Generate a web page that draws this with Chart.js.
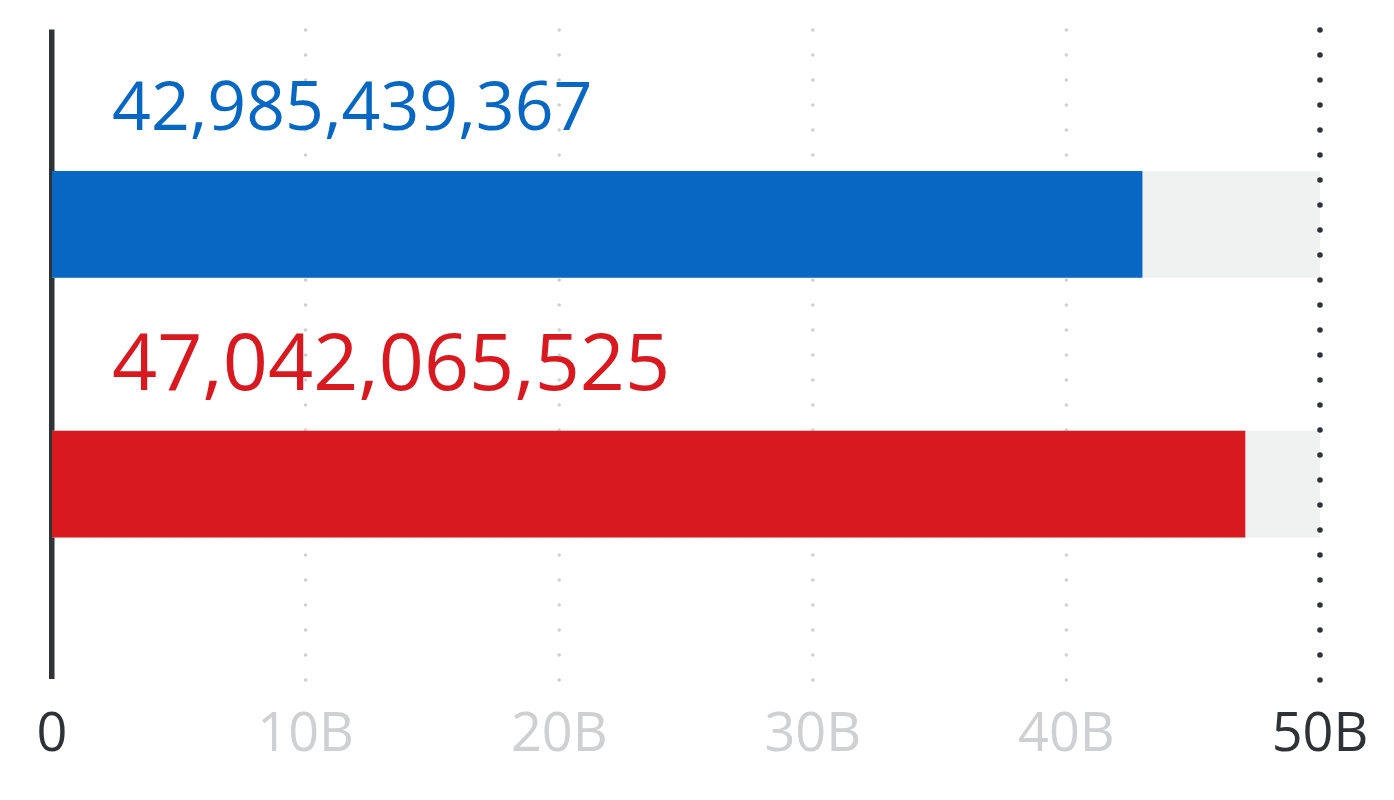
<!DOCTYPE html>
<html>
<head>
<meta charset="utf-8">
<script src="https://cdn.jsdelivr.net/npm/chart.js@4/dist/chart.umd.min.js"></script>
<style>
  html, body { margin: 0; padding: 0; background: #fff; }
  #wrap { width: 1394px; height: 800px; position: relative; }
</style>
</head>
<body>
<div id="wrap"><canvas id="barChart"></canvas></div>
<script>
// values
const categories = ['Blue', 'Red'];
const values = [42985439367, 47042065525];
const trackMax = [50e9, 50e9];
const tickValues = [0, 10e9, 20e9, 30e9, 40e9, 50e9];
const tickLabels = ['0', '10B', '20B', '30B', '40B', '50B'];

const barColors = ['#0767c3', '#d81920'];
const labelSizes = [68, 79];
const dark = '#2e3338';
const light = '#cfd0d1';
const fontFamily = '"Open Sans", "Noto Sans", sans-serif';
const yMin = -0.75, yMax = 1.75;

function dottedLine(ctx, x, top, bottom, size, color) {
    ctx.save();
    ctx.beginPath();
    ctx.strokeStyle = color;
    ctx.lineWidth = size;
    ctx.lineCap = 'round';
    ctx.setLineDash([0, 25]);
    ctx.moveTo(x, top + 0.5);
    ctx.lineTo(x, bottom + 4);
    ctx.stroke();
    ctx.restore();
}

const decorations = {
    id: 'decorations',
    beforeDatasetsDraw(chart) {
        const { ctx, chartArea, scales } = chart;
        // light dotted grid between the ends
        tickValues.slice(1, -1).forEach(v => {
            dottedLine(ctx, scales.x.getPixelForValue(v), chartArea.top, chartArea.bottom, 3.6, light);
        });
        // solid axis line at zero
        const x0 = scales.x.getPixelForValue(0);
        ctx.save();
        ctx.fillStyle = dark;
        ctx.fillRect(x0 - 3, chartArea.top, 5.5, chartArea.bottom - chartArea.top);
        ctx.restore();
    },
    afterDatasetsDraw(chart) {
        const { ctx, chartArea, scales } = chart;
        const xEnd = scales.x.getPixelForValue(tickValues[tickValues.length - 1]);
        dottedLine(ctx, xEnd, chartArea.top, chartArea.bottom, 5.6, dark);

        const meta = chart.getDatasetMeta(0);
        meta.data.forEach((bar, i) => {
            const top = bar.y - bar.height / 2;
            ctx.save();
            ctx.font = labelSizes[i] + 'px ' + fontFamily;
            ctx.fillStyle = barColors[i];
            ctx.textAlign = 'left';
            ctx.textBaseline = 'alphabetic';
            ctx.fillText(values[i].toLocaleString('en-US'), chartArea.left + 60, top - 41);
            ctx.restore();
        });
    }
};

const ctx = document.getElementById('barChart').getContext('2d');

new Chart(ctx, {
    type: 'bar',
    data: {
        labels: categories,
        datasets: [{
            label: 'Value',
            data: values.map((v, i) => ({ x: v, y: i })),
            backgroundColor: barColors,
            barThickness: 106,
            maxBarThickness: 106,
            grouped: false,
            order: 1
        }, {
            label: 'Track',
            data: trackMax.map((v, i) => ({ x: v, y: i })),
            backgroundColor: '#f0f1f1',
            barThickness: 106,
            maxBarThickness: 106,
            grouped: false,
            order: 2
        }]
    },
    options: {
        indexAxis: 'y',
        responsive: true,
        maintainAspectRatio: false,
        animation: false,
        layout: {
            padding: { left: 52, right: 74, top: 29.5, bottom: 0 }
        },
        plugins: {
            legend: { display: false },
            tooltip: { enabled: false }
        },
        scales: {
            x: {
                type: 'linear',
                min: 0,
                max: 50e9,
                grid: { display: false },
                border: { display: false },
                afterBuildTicks(scale) {
                    scale.ticks = tickValues.map(v => ({ value: v }));
                },
                afterFit(scale) {
                    scale.height = 121;
                },
                ticks: {
                    padding: 16,
                    font: { family: fontFamily, size: 54 },
                    color: c => (c.index === 0 || c.index === tickValues.length - 1) ? dark : light,
                    callback: (v, i) => tickLabels[i],
                    maxRotation: 0,
                    autoSkip: false
                }
            },
            y: {
                type: 'linear',
                reverse: true,
                offset: false,
                bounds: 'data',
                min: yMin,
                max: yMax,
                display: false,
                afterBuildTicks(scale) {
                    scale.min = yMin;
                    scale.max = yMax;
                }
            }
        }
    },
    plugins: [decorations]
});
</script>
</body>
</html>
